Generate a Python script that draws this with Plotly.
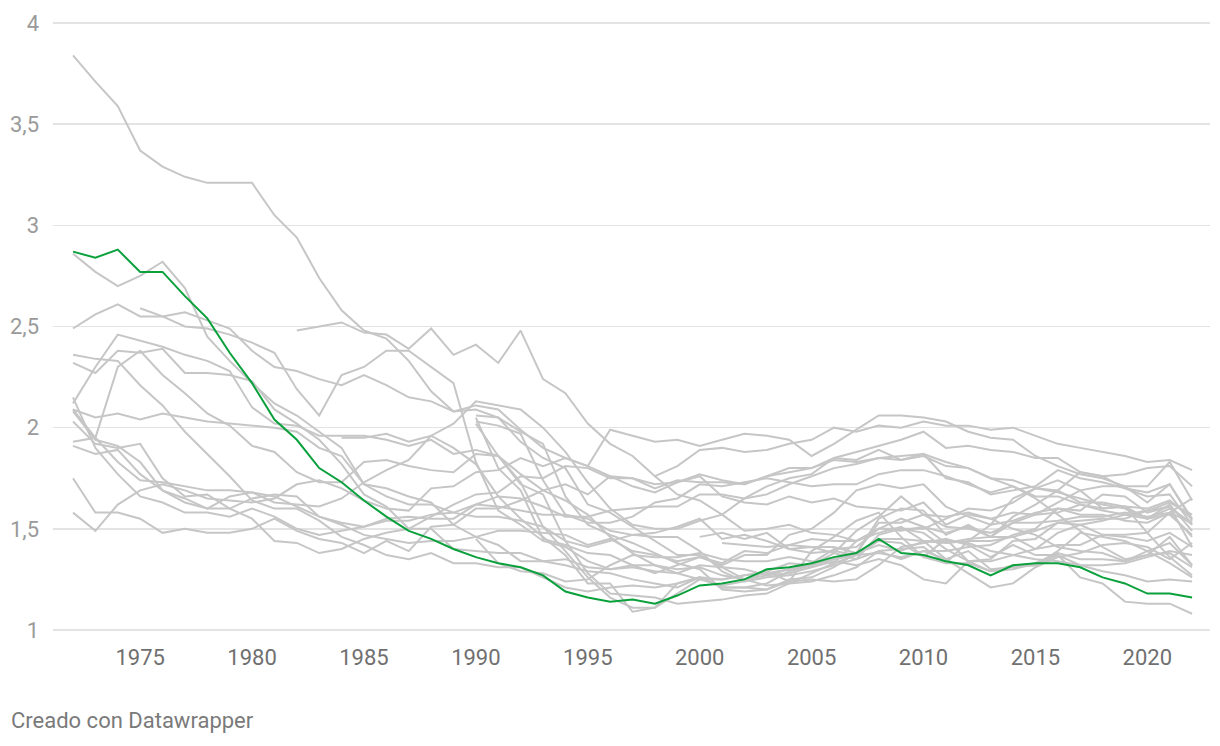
import plotly.graph_objects as go

YEARS = list(range(1972, 2023))

# Highlighted series (green)
ESPANA = [2.87, 2.84, 2.88, 2.77, 2.77, 2.65, 2.54, 2.37, 2.22, 2.04,
          1.94, 1.80, 1.73, 1.64, 1.56, 1.49, 1.45, 1.40, 1.36, 1.33,
          1.31, 1.27, 1.19, 1.16, 1.14, 1.15, 1.13, 1.17, 1.22, 1.23,
          1.25, 1.30, 1.31, 1.33, 1.36, 1.38, 1.45, 1.38, 1.37, 1.34,
          1.32, 1.27, 1.32, 1.33, 1.33, 1.31, 1.26, 1.23, 1.18, 1.18,
          1.16]

# Grey series
IRLANDA = [3.84, 3.71, 3.59, 3.37, 3.29, 3.24, 3.21, 3.21, 3.21, 3.05,
           2.94, 2.74, 2.58, 2.48, 2.44, 2.33, 2.18, 2.08, 2.11, 2.09,
           1.99, 1.90, 1.85, 1.81, 1.99, 1.96, 1.93, 1.94, 1.91, 1.94,
           1.97, 1.96, 1.94, 1.86, 1.92, 1.99, 2.06, 2.06, 2.05, 2.03,
           1.98, 1.95, 1.94, 1.86, 1.81, 1.77, 1.75, 1.71, 1.63, 1.72,
           1.54]
PORTUGAL = [2.86, 2.77, 2.70, 2.75, 2.82, 2.69, 2.45, 2.33, 2.22, 2.12,
            2.06, 1.98, 1.90, 1.72, 1.66, 1.62, 1.62, 1.58, 1.56, 1.56,
            1.54, 1.51, 1.44, 1.41, 1.44, 1.47, 1.48, 1.51, 1.55, 1.45,
            1.47, 1.44, 1.40, 1.41, 1.38, 1.35, 1.39, 1.35, 1.39, 1.35,
            1.28, 1.21, 1.23, 1.31, 1.36, 1.38, 1.42, 1.43, 1.41, 1.35,
            1.43]
ESLOVAQUIA = [2.49, 2.56, 2.61, 2.55, 2.55, 2.57, 2.53, 2.49, 2.38, 2.30,
              2.28, 2.24, 2.21, 2.26, 2.21, 2.15, 2.13, 2.08, 2.09, 2.05,
              1.98, 1.92, 1.66, 1.52, 1.47, 1.43, 1.38, 1.33, 1.30, 1.20,
              1.19, 1.20, 1.24, 1.25, 1.24, 1.25, 1.32, 1.41, 1.43, 1.45,
              1.34, 1.34, 1.37, 1.40, 1.48, 1.52, 1.54, 1.57, 1.59, 1.63,
              1.57]
RUMANIA = [None] * 3 + [2.59, 2.55, 2.50, 2.49, 2.46, 2.42, 2.37,
           2.19, 2.06, 2.26, 2.30, 2.38, 2.38, 2.30, 2.22, 1.83, 1.59,
           1.52, 1.44, 1.41, 1.34, 1.30, 1.32, 1.32, 1.30, 1.31, 1.27,
           1.25, 1.27, 1.30, 1.32, 1.35, 1.38, 1.55, 1.60, 1.59, 1.47,
           1.52, 1.46, 1.56, 1.62, 1.69, 1.78, 1.76, 1.77, 1.80, 1.81,
           1.71]
ITALIA = [2.36, 2.34, 2.33, 2.21, 2.11, 1.98, 1.87, 1.76, 1.64, 1.60,
          1.60, 1.54, 1.46, 1.42, 1.37, 1.35, 1.38, 1.33, 1.33, 1.31,
          1.31, 1.26, 1.21, 1.19, 1.21, 1.22, 1.21, 1.23, 1.26, 1.25,
          1.27, 1.29, 1.33, 1.32, 1.35, 1.37, 1.45, 1.45, 1.44, 1.44,
          1.43, 1.39, 1.37, 1.35, 1.34, 1.32, 1.29, 1.27, 1.24, 1.25,
          1.24]
GRECIA = [2.32, 2.27, 2.38, 2.37, 2.39, 2.27, 2.27, 2.26, 2.23, 2.09,
          2.02, 1.94, 1.82, 1.67, 1.61, 1.50, 1.50, 1.40, 1.39, 1.38,
          1.38, 1.34, 1.35, 1.31, 1.30, 1.31, 1.29, 1.28, 1.25, 1.25,
          1.27, 1.28, 1.30, 1.33, 1.40, 1.41, 1.50, 1.50, 1.48, 1.40,
          1.34, 1.29, 1.30, 1.33, 1.38, 1.35, 1.35, 1.34, 1.39, 1.43,
          1.32]
PAISES_BAJOS = [2.15, 1.90, 1.77, 1.66, 1.63, 1.58, 1.58, 1.56, 1.60, 1.56,
                1.50, 1.47, 1.49, 1.51, 1.55, 1.56, 1.55, 1.55, 1.62, 1.61,
                1.59, 1.57, 1.57, 1.53, 1.53, 1.56, 1.63, 1.65, 1.72, 1.71,
                1.73, 1.75, 1.73, 1.71, 1.72, 1.72, 1.77, 1.79, 1.79, 1.76,
                1.72, 1.68, 1.71, 1.66, 1.66, 1.62, 1.59, 1.57, 1.55, 1.62,
                1.49]
BELGICA = [2.09, 1.95, 1.83, 1.74, 1.73, 1.71, 1.69, 1.69, 1.68, 1.66,
           1.61, 1.56, 1.53, 1.51, 1.54, 1.54, 1.57, 1.58, 1.62, 1.66,
           1.65, 1.61, 1.56, 1.56, 1.59, 1.60, 1.61, 1.61, 1.67, 1.67,
           1.65, 1.67, 1.72, 1.76, 1.80, 1.82, 1.85, 1.84, 1.86, 1.81,
           1.80, 1.75, 1.74, 1.70, 1.68, 1.65, 1.62, 1.60, 1.55, 1.60,
           1.53]
AUSTRIA = [2.08, 1.94, 1.91, 1.83, 1.69, 1.63, 1.60, 1.60, 1.65, 1.67,
           1.66, 1.56, 1.52, 1.47, 1.45, 1.43, 1.44, 1.44, 1.46, 1.49,
           1.49, 1.48, 1.47, 1.42, 1.45, 1.39, 1.37, 1.34, 1.36, 1.33,
           1.39, 1.38, 1.42, 1.41, 1.41, 1.38, 1.42, 1.39, 1.44, 1.43,
           1.44, 1.44, 1.46, 1.49, 1.53, 1.52, 1.47, 1.46, 1.44, 1.48,
           1.41]
DINAMARCA = [2.03, 1.92, 1.90, 1.92, 1.75, 1.66, 1.67, 1.60, 1.55, 1.44,
             1.43, 1.38, 1.40, 1.45, 1.48, 1.50, 1.56, 1.62, 1.67, 1.68,
             1.76, 1.75, 1.81, 1.80, 1.75, 1.75, 1.72, 1.73, 1.77, 1.74,
             1.72, 1.76, 1.78, 1.80, 1.85, 1.84, 1.89, 1.84, 1.87, 1.75,
             1.73, 1.67, 1.69, 1.71, 1.79, 1.75, 1.73, 1.70, 1.68, 1.72,
             1.55]
HUNGRIA = [1.93, 1.95, 2.30, 2.38, 2.26, 2.17, 2.07, 2.01, 1.91, 1.88,
           1.78, 1.73, 1.73, 1.83, 1.84, 1.81, 1.79, 1.78, 1.87, 1.86,
           1.77, 1.69, 1.64, 1.57, 1.46, 1.38, 1.32, 1.28, 1.32, 1.31,
           1.30, 1.27, 1.28, 1.31, 1.34, 1.32, 1.35, 1.32, 1.25, 1.23,
           1.34, 1.35, 1.44, 1.45, 1.53, 1.54, 1.55, 1.55, 1.59, 1.61,
           1.52]
SUECIA = [1.91, 1.87, 1.89, 1.77, 1.69, 1.65, 1.60, 1.66, 1.68, 1.63,
          1.62, 1.61, 1.65, 1.73, 1.79, 1.84, 1.96, 2.02, 2.13, 2.11,
          2.09, 2.00, 1.88, 1.73, 1.60, 1.52, 1.50, 1.50, 1.54, 1.57,
          1.65, 1.71, 1.75, 1.77, 1.85, 1.88, 1.91, 1.94, 1.98, 1.90,
          1.91, 1.89, 1.88, 1.85, 1.85, 1.78, 1.76, 1.70, 1.66, 1.67,
          1.52]
LUXEMBURGO = [1.75, 1.58, 1.58, 1.55, 1.48, 1.50, 1.48, 1.48, 1.50, 1.55,
              1.49, 1.45, 1.43, 1.38, 1.44, 1.39, 1.51, 1.52, 1.60, 1.60,
              1.64, 1.69, 1.72, 1.67, 1.76, 1.71, 1.68, 1.73, 1.76, 1.66,
              1.63, 1.62, 1.66, 1.63, 1.65, 1.61, 1.60, 1.59, 1.63, 1.52,
              1.57, 1.55, 1.50, 1.47, 1.41, 1.39, 1.38, 1.34, 1.37, 1.38,
              1.31]
FINLANDIA = [1.58, 1.49, 1.62, 1.69, 1.72, 1.69, 1.65, 1.64, 1.63, 1.65,
             1.72, 1.74, 1.70, 1.64, 1.60, 1.59, 1.70, 1.71, 1.78, 1.79,
             1.85, 1.81, 1.85, 1.81, 1.76, 1.75, 1.70, 1.74, 1.73, 1.73,
             1.72, 1.76, 1.80, 1.80, 1.84, 1.83, 1.85, 1.86, 1.87, 1.83,
             1.80, 1.75, 1.71, 1.65, 1.57, 1.49, 1.41, 1.35, 1.37, 1.46,
             1.32]
CHEQUIA = [2.12, 2.30, 2.46, 2.43, 2.40, 2.36, 2.33, 2.28, 2.10, 2.02,
           2.01, 1.96, 1.96, 1.96, 1.94, 1.91, 1.94, 1.87, 1.89, 1.86,
           1.72, 1.67, 1.44, 1.28, 1.18, 1.17, 1.16, 1.13, 1.14, 1.15,
           1.17, 1.18, 1.23, 1.28, 1.33, 1.44, 1.50, 1.49, 1.51, 1.43,
           1.45, 1.46, 1.53, 1.57, 1.63, 1.69, 1.71, 1.71, 1.71, 1.83,
           1.64]
ESLOVENIA = [2.09, 2.05, 2.07, 2.04, 2.07, 2.05, 2.03, 2.02, 2.01, 2.00,
             1.98, 1.90, 1.86, 1.72, 1.70, 1.66, 1.63, 1.52, 1.46, 1.42,
             1.34, 1.34, 1.32, 1.29, 1.28, 1.25, 1.23, 1.21, 1.26, 1.21,
             1.21, 1.20, 1.25, 1.26, 1.31, 1.38, 1.53, 1.53, 1.57, 1.56,
             1.58, 1.55, 1.58, 1.57, 1.58, 1.62, 1.60, 1.61, 1.60, 1.64,
             1.55]
BULGARIA = [None] * 12 + [1.95, 1.95, 1.97, 1.93, 1.96, 1.90, 1.82, 1.66,
            1.55, 1.46, 1.37, 1.23, 1.23, 1.09, 1.11, 1.23, 1.26, 1.21,
            1.21, 1.23, 1.29, 1.32, 1.38, 1.49, 1.56, 1.66, 1.57, 1.51,
            1.50, 1.48, 1.53, 1.53, 1.54, 1.56, 1.56, 1.58, 1.56, 1.58,
            1.65]
CHIPRE = [None] * 10 + [2.48, 2.50, 2.52, 2.47, 2.46, 2.39, 2.49, 2.36, 2.41, 2.32,
          2.48, 2.24, 2.17, 2.02, 1.92, 1.86, 1.76, 1.67, 1.64, 1.57,
          1.49, 1.50, 1.52, 1.48, 1.47, 1.44, 1.48, 1.51, 1.44, 1.35,
          1.39, 1.30, 1.31, 1.32, 1.37, 1.32, 1.32, 1.33, 1.36, 1.39,
          1.37]
MALTA = [None] * 28 + [1.46, 1.48,
         1.45, 1.48, 1.40, 1.38, 1.39, 1.37, 1.44, 1.43, 1.36, 1.45,
         1.42, 1.36, 1.42, 1.37, 1.37, 1.26, 1.23, 1.14, 1.13, 1.13,
         1.08]
CROACIA = [None] * 29 + [1.43,
           1.42, 1.41, 1.42, 1.45, 1.44, 1.44, 1.50, 1.55, 1.51, 1.48,
           1.51, 1.46, 1.46, 1.40, 1.42, 1.42, 1.47, 1.47, 1.48, 1.58,
           1.53]
FRANCIA = [None] * 26 + [1.76, 1.81, 1.89, 1.90,
           1.88, 1.89, 1.92, 1.94, 2.00, 1.98, 2.01, 2.00, 2.03, 2.01,
           2.01, 1.99, 2.00, 1.96, 1.92, 1.90, 1.88, 1.86, 1.83, 1.84,
           1.79]
ALEMANIA = [None] * 18 + [1.45, 1.33,
            1.29, 1.28, 1.24, 1.25, 1.32, 1.37, 1.36, 1.36, 1.38, 1.35,
            1.34, 1.34, 1.36, 1.34, 1.33, 1.37, 1.38, 1.36, 1.39, 1.39,
            1.41, 1.42, 1.47, 1.50, 1.60, 1.57, 1.57, 1.54, 1.53, 1.58,
            1.46]
POLONIA = [None] * 18 + [2.06, 2.05,
           1.93, 1.85, 1.80, 1.62, 1.58, 1.51, 1.44, 1.37, 1.37, 1.31,
           1.25, 1.22, 1.23, 1.24, 1.27, 1.31, 1.39, 1.40, 1.41, 1.33,
           1.33, 1.29, 1.32, 1.32, 1.39, 1.48, 1.46, 1.44, 1.39, 1.33,
           1.26]
ESTONIA = [None] * 18 + [2.05, 1.80,
           1.69, 1.45, 1.42, 1.38, 1.37, 1.32, 1.28, 1.32, 1.36, 1.32,
           1.37, 1.37, 1.47, 1.50, 1.58, 1.69, 1.72, 1.70, 1.72, 1.61,
           1.56, 1.52, 1.54, 1.58, 1.60, 1.59, 1.67, 1.66, 1.58, 1.61,
           1.41]
LETONIA = [None] * 18 + [2.02, 1.86,
           1.73, 1.51, 1.39, 1.26, 1.16, 1.11, 1.11, 1.18, 1.25, 1.22,
           1.24, 1.29, 1.24, 1.39, 1.46, 1.54, 1.58, 1.46, 1.36, 1.33,
           1.44, 1.52, 1.65, 1.70, 1.74, 1.69, 1.60, 1.61, 1.55, 1.57,
           1.47]
LITUANIA = [None] * 18 + [2.03, 2.01,
            1.97, 1.74, 1.57, 1.55, 1.49, 1.47, 1.46, 1.46, 1.39, 1.29,
            1.24, 1.26, 1.27, 1.29, 1.32, 1.35, 1.47, 1.50, 1.50, 1.55,
            1.60, 1.59, 1.63, 1.70, 1.69, 1.63, 1.63, 1.61, 1.48, 1.36,
            1.27]

GREY_SERIES = [IRLANDA, PORTUGAL, ESLOVAQUIA, RUMANIA, ITALIA, GRECIA,
               PAISES_BAJOS, BELGICA, AUSTRIA, DINAMARCA, HUNGRIA, SUECIA,
               LUXEMBURGO, FINLANDIA, CHEQUIA, ESLOVENIA, BULGARIA, CHIPRE,
               MALTA, CROACIA, FRANCIA, ALEMANIA, POLONIA, ESTONIA,
               LETONIA, LITUANIA]

Y_TICKS = [1, 1.5, 2, 2.5, 3, 3.5, 4]
Y_TICK_LABELS = ["1", "1,5", "2", "2,5", "3", "3,5", "4"]
X_TICKS = [1975, 1980, 1985, 1990, 1995, 2000, 2005, 2010, 2015, 2020]

GREY = "#c6c6c6"
GREEN = "#0aa03c"
FONT = "Roboto"

fig = go.Figure()
for s in GREY_SERIES:
    fig.add_trace(go.Scatter(x=YEARS, y=s, mode="lines",
                             line=dict(color=GREY, width=2),
                             hoverinfo="skip", showlegend=False,
                             connectgaps=False))
fig.add_trace(go.Scatter(x=YEARS, y=ESPANA, mode="lines",
                         line=dict(color=GREEN, width=2),
                         hoverinfo="skip", showlegend=False))

fig.update_layout(
    width=1220, height=746,
    margin=dict(l=53, r=10, t=19, b=112),
    paper_bgcolor="white", plot_bgcolor="white",
    font=dict(family=FONT),
    showlegend=False,
    hovermode=False,
    xaxis=dict(range=[1971.106, 2022.80], tickvals=X_TICKS,
               showgrid=False, zeroline=False, showline=False, ticks="",
               tickfont=dict(size=22, color="#707070", family=FONT),
               ticklabelstandoff=8, fixedrange=True),
    yaxis=dict(range=[0.98, 4.02], tickvals=Y_TICKS, ticktext=Y_TICK_LABELS,
               showgrid=True, gridcolor="#e3e3e3", gridwidth=1.5,
               zeroline=False, showline=False, ticks="",
               tickfont=dict(size=22, color="#9a9a9a", family=FONT),
               ticklabelstandoff=13, fixedrange=True),
    annotations=[dict(text="Creado con Datawrapper", xref="paper", yref="paper",
                      x=-44 / 1157, y=-(721 - 634) / 615, xanchor="left",
                      yanchor="middle", showarrow=False,
                      font=dict(size=22, color="#7a7a7a", family=FONT))],
)

fig.write_html("out.html", config={"displayModeBar": False, "staticPlot": True},
               post_script="document.body.style.margin='0';")
